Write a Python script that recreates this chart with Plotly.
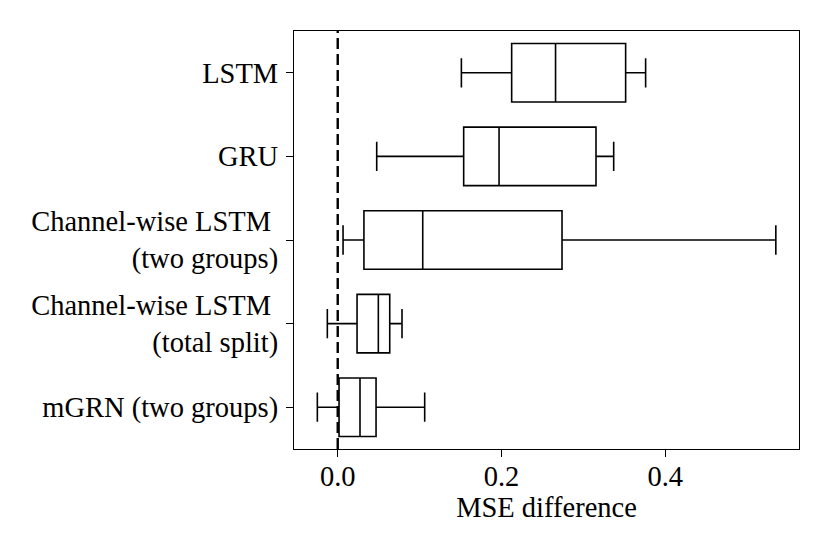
import plotly.graph_objects as go

categories = ["LSTM", "GRU", "Channel-wise LSTM\u00a0<br>(two groups)",
              "Channel-wise LSTM\u00a0<br>(total split)", "mGRN (two groups)"]
lower_whisker = [0.151, 0.0476, 0.0065, -0.0127, -0.0249]
q1_vals = [0.2124, 0.1538, 0.032, 0.0236, 0.0016]
median_vals = [0.266, 0.197, 0.1038, 0.0496, 0.0272]
q3_vals = [0.3516, 0.3154, 0.2739, 0.0635, 0.0468]
upper_whisker = [0.376, 0.337, 0.535, 0.0785, 0.1062]
x_ticks = [0.0, 0.2, 0.4]
x_tick_labels = ["0.0", "0.2", "0.4"]

FONT = "Liberation Serif, Times New Roman, serif"
FS = 28.5

fig = go.Figure()
fig.add_trace(go.Box(
    y=categories,
    q1=q1_vals, median=median_vals, q3=q3_vals,
    lowerfence=lower_whisker, upperfence=upper_whisker,
    orientation="h",
    width=0.7,
    whiskerwidth=0.5,
    fillcolor="rgba(255,255,255,0)",
    line=dict(color="black", width=1.6),
    boxpoints=False,
    showlegend=False,
    hoverinfo="skip",
))

fig.add_shape(type="line", xref="x", yref="paper", x0=0, x1=0, y0=0, y1=1,
              line=dict(color="black", width=2.4, dash="11px,5px"), layer="above")

fig.update_layout(
    width=822, height=546,
    margin=dict(l=286, r=31, t=23, b=105),
    plot_bgcolor="white", paper_bgcolor="white",
    font=dict(family=FONT, size=FS, color="black"),
    xaxis=dict(
        range=[-0.0534, 0.5633],
        tickvals=x_ticks, ticktext=x_tick_labels,
        tickfont=dict(family=FONT, size=FS, color="black"),
        ticks="outside", ticklen=7, tickwidth=1.3, tickcolor="black",
        showline=True, linecolor="black", linewidth=1.3, mirror=True,
        showgrid=False, zeroline=False,
        ticklabelstandoff=-5,
        title=dict(text="MSE difference", standoff=4,
                   font=dict(family=FONT, size=FS, color="black")),
    ),
    yaxis=dict(
        type="category",
        categoryorder="array", categoryarray=categories[::-1],
        range=[-0.5, 4.5],
        tickfont=dict(family=FONT, size=FS, color="black"),
        ticks="outside", ticklen=7, tickwidth=1.3, tickcolor="black",
        showline=True, linecolor="black", linewidth=1.3, mirror=True,
        showgrid=False, zeroline=False,
        ticklabelstandoff=2,
    ),
)

fig.write_html("out.html")
